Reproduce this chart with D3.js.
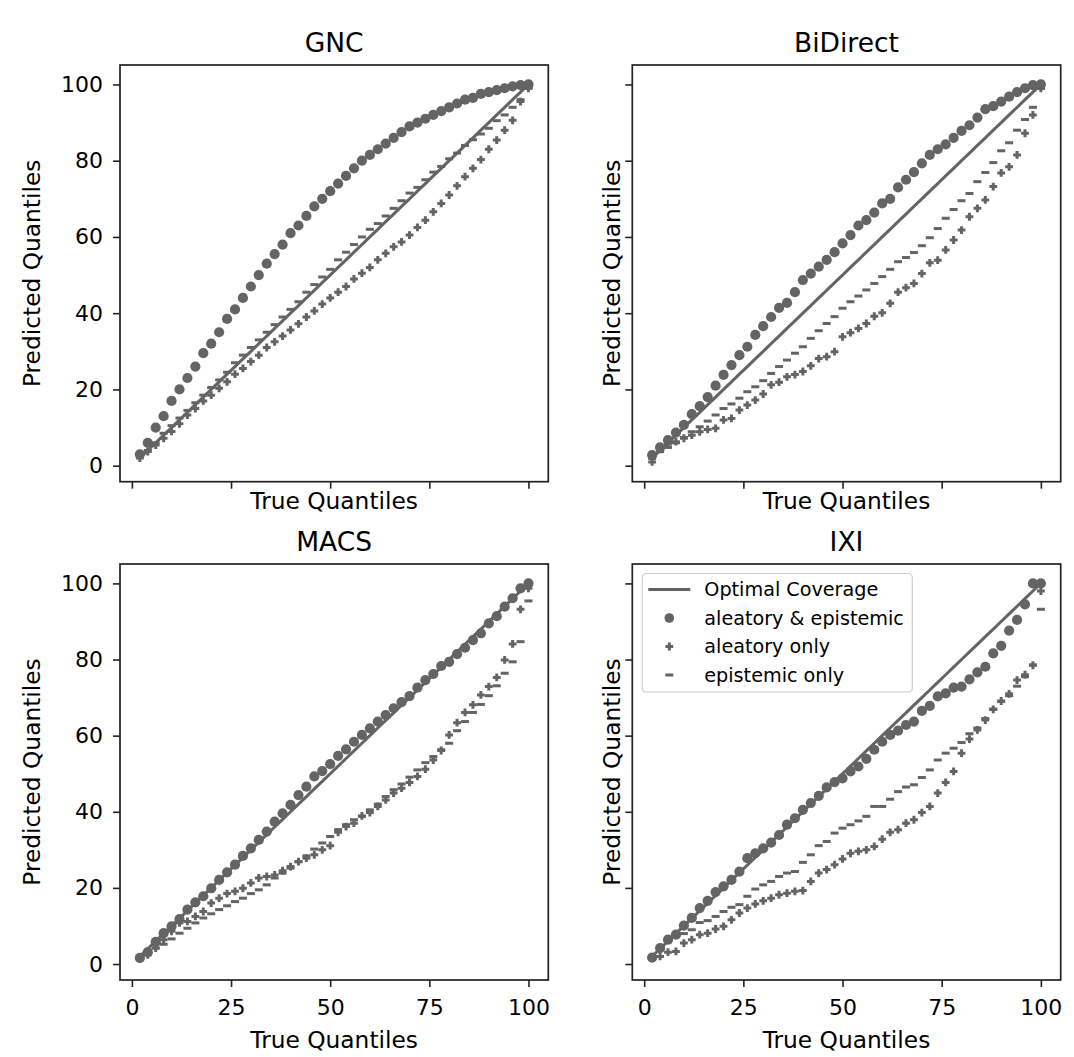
<!DOCTYPE html>
<meta charset="utf-8">
<script src="https://d3js.org/d3.v7.min.js"></script>
<style>
  body { margin: 0; background: #fff; }
  text { font-family: "DejaVu Sans", sans-serif; fill: #000; }
</style>
<div id="chart"></div>
<script>

// true quantiles (x) shared by all panels
var quantiles = [2,4,6,8,10,12,14,16,18,20,22,24,26,28,30,32,34,36,38,40,
                 42,44,46,48,50,52,54,56,58,60,62,64,66,68,70,72,74,76,78,80,
                 82,84,86,88,90,92,94,96,98,100]

var titles = ["GNC", "BiDirect", "MACS", "IXI"]
var xTicks = [0, 25, 50, 75, 100]
var yTicks = [0, 20, 40, 60, 80, 100]
var legendLabels = ["Optimal Coverage", "aleatory & epistemic", "aleatory only", "epistemic only"]

// aleatory & epistemic
var gncBoth = [3,6,10,13,17,20,23,26,29.5,32, 35,38.5,41,44,47,50,53,55.5,58,61,
               63,65.5,68,70,72,74,76,78,80,81.5, 83,84.5,86,87.5,89,90,91,92,93,94,
               95,96,96.5,97.5,98,98.5,99,99.5,99.8,100]
var bidBoth = [2.8,4.8,6.7,8.7,10.7,13.5,15.6,18,21,23.8, 26.4,29,31.2,34.3,36.6,39,41.4,42.7,45.5,48.7,
               50.4,52.2,54,56,58.3,60.5,63,64.4,66.4,68.8, 70,73,75,77,79.3,81.5,83,84.3,86,87.8,
               89.3,91.3,93.5,94.3,95.5,96.8,98,99,99.8,100]
var macsBoth = [1.6,3.1,5.8,8.1,9.9,11.8,14.3,16.2,17.8,19.9, 22.1,24.1,26.1,28.4,30.4,32.6,34.8,37.4,39.6,41.8,
                44.4,46.6,49.3,50.7,52.5,54.7,56.4,58.4,60.2,61.9, 63.7,65.4,67.2,68.8,70.4,72.6,74.6,76.2,78.3,79.4,
                81.4,83.1,85.1,86.9,89.5,91.4,93.9,96.1,98.7,100]
var ixiBoth = [1.7,4.2,6.4,7.7,10.1,12.1,14.7,16.6,18.9,20.4, 22.1,24.3,27.8,29.1,30.4,31.9,33.9,36.6,38.3,40.5,
               42.3,44.2,46.4,47.8,48.8,50.6,51.9,53.9,56.3,58.4, 60.2,61.3,62.8,63.7,66.5,67.8,70.3,71.1,72.6,72.9,
               74.8,76.6,78.1,81.6,83.6,87.6,90.4,94.5,100,100]

// aleatory only
var gncAle = [2,3.7,5.4,7.2,9,11,13.3,15,17,18.5, 20.3,22,24,25.5,27.3,29,31,32.5,34,35.6,
              37.2,39,40.6,42.4,44,45.5,47,49,50.5,52, 54,55.7,57.4,58.7,60.5,62.5,64.4,66.6,68.8,71,
              73.4,75.8,78,80.3,83,85.4,88,90.6,95.5,99]
var bidAle = [1,4.3,5.7,6.3,7.2,8,8.9,9.5,9.8,12, 12.4,14.6,15.9,17.2,18.8,21.2,21.9,23.3,23.9,24.7,
              26.2,28.1,28.6,29.9,33.8,34.9,36,37.3,39.2,40.1, 42.6,45.5,46.7,47.8,50.4,53.2,53.9,56.6,59.2,61.8,
              65.3,67.5,69.7,73.2,76.8,78.4,81.5,87.2,92,99]
var macsAle = [1.3,2.4,4.2,6.4,8.6,10.8,11.2,12.5,13.8,16, 17.3,18.5,19.1,19.9,21.3,22.6,23,23.4,24.5,25.6,
               26.9,27.8,28.7,30,31.1,34.6,36.1,37,38.9,39.8, 41.4,43.1,44.9,46.2,47.7,49.3,51.2,53.6,56.1,60.2,
               63.4,66.1,68.1,70.7,72.9,75.3,79.9,84.1,93.2,98.7]
var ixiAle = [1.7,2,3.1,3.3,5.5,6.4,7.7,8.1,9.2,9.9, 11.6,13.4,14.7,15.8,16.6,17.3,18.2,18.6,19.1,19.3,
              21.7,23.9,24.8,26.1,27.6,29.1,29.6,30,30.9,32.8, 34.6,35.3,37,37.9,39.8,41.4,44.9,47.7,50.6,55.4,
              59.1,61.5,64.1,66.9,69.1,71,74.6,76,78.5,98]

// epistemic only
var gncEpi = [2.5,4,6,8.5,10.5,12.5,14.5,16.5,18.5,20.5, 22.5,24.5,27,29,31,33,35,37,39,41,
              43,45.5,47.5,49.5,51.5,54,56,58,60,62, 63.5,65.5,67.5,69.5,71.5,73,75,77,78.5,80.5,
              82,84,85.5,87,88.5,90.5,92,94,96,99]
var bidEpi = [1.9,3.7,4.8,6,7.4,8.9,10.2,11.7,13.3,15, 16.2,17.7,19.4,20.7,22.3,24.2,26,27.7,29.5,31.2,
              33.4,35.4,37.3,39.1,41.3,43,44.5,46.1,47.8,49.6, 51.5,53.5,54.6,55.9,57.7,59.8,62.2,64.9,67.2,69.5,
              71.4,74.5,76.9,79.5,82.6,84.7,88,90.8,94,99]
var macsEpi = [1.6,2.9,4.2,5.2,6.6,8.1,9.4,10.8,12.1,13.2, 14.3,15.3,16.4,17.3,18.5,19.5,20.8,22.6,23.9,25.2,
               26.9,28.4,30.2,31.8,33.5,35.3,36.6,37.9,38.8,40.5, 42,44,45.8,47.3,49.1,51,52.9,54.5,56.3,58,
               61.3,63.7,66.1,68.2,70.5,73.1,76.4,79.4,84.7,95.4]
var ixiEpi = [2,3.8,5.9,7.3,8,9,10.9,11.4,12.5,13.8, 14.9,15.6,17.8,19.7,20.8,21.7,23,23.9,24.3,26.7,
              28.7,31.1,32.2,34.4,35.7,36.6,37.6,38.8,41.4,41.4, 43.3,45.3,46.5,47.1,49,51,53.6,55.4,56.7,58.2,
              60.5,62,64.5,67,69,70.5,73,75.5,78.6,93.2]

var both = [gncBoth, bidBoth, macsBoth, ixiBoth]
var ale = [gncAle, bidAle, macsAle, ixiAle]
var epi = [gncEpi, bidEpi, macsEpi, ixiEpi]

var width = 1074, height = 1057
var grey = "#646464"
var colX = [[120, 548.3], [632.3, 1060.7]]
var rowY = [[65, 481.7], [564, 980]]

var svg = d3.select("#chart").append("svg")
    .attr("width", width)
    .attr("height", height)

svg.append("rect").attr("width", width).attr("height", height).attr("fill", "white")

var plusPath = "M-1.5,-3.9H1.5V-1.5H3.9V1.5H1.5V3.9H-1.5V1.5H-3.9V-1.5H-1.5Z"

function drawPlus(sel) {
  sel.append("path").attr("d", plusPath).attr("fill", grey)
}
function drawDash(sel) {
  sel.append("rect").attr("x", -4).attr("y", -1.5).attr("width", 8).attr("height", 3).attr("fill", grey)
}

titles.forEach(function(title, i) {
  var col = i % 2, row = Math.floor(i / 2)
  var x0 = colX[col][0], x1 = colX[col][1]
  var y0 = rowY[row][0], y1 = rowY[row][1]

  var x = d3.scaleLinear().domain([-3, 105]).range([x0, x1])
  var y = d3.scaleLinear().domain([-4.2, 105.1]).range([y1, y0])

  var g = svg.append("g")

  // diagonal
  g.append("path")
    .datum(quantiles)
    .attr("d", d3.line().x(function(d){ return x(d) }).y(function(d){ return y(d) }))
    .attr("fill", "none")
    .attr("stroke", grey)
    .attr("stroke-width", 3)

  g.selectAll("circle.both")
    .data(quantiles)
    .enter().append("circle")
      .attr("cx", function(d){ return x(d) })
      .attr("cy", function(d, j){ return y(both[i][j]) })
      .attr("r", 5.1)
      .attr("fill", grey)

  g.selectAll("g.ale")
    .data(quantiles)
    .enter().append("g")
      .attr("transform", function(d, j){ return "translate(" + x(d) + "," + y(ale[i][j]) + ")" })
      .call(drawPlus)

  g.selectAll("g.epi")
    .data(quantiles)
    .enter().append("g")
      .attr("transform", function(d, j){ return "translate(" + x(d) + "," + y(epi[i][j]) + ")" })
      .call(drawDash)

  // axes
  var xa = d3.axisBottom(x).tickValues(xTicks).tickSize(7).tickPadding(12)
  if (row == 0) xa.tickFormat("")
  var ya = d3.axisLeft(y).tickValues(yTicks).tickSize(7).tickPadding(10)
  if (col == 1) ya.tickFormat("")

  var gx = g.append("g").attr("transform", "translate(0," + y1 + ")").call(xa)
  var gy = g.append("g").attr("transform", "translate(" + x0 + ",0)").call(ya)
  ;[gx, gy].forEach(function(a) {
    a.select(".domain").remove()
    a.selectAll("line").attr("stroke", "#222").attr("stroke-width", 1.6)
    a.selectAll("text").attr("font-family", "DejaVu Sans").attr("font-size", 22).attr("fill", "#000")
  })

  g.append("rect")
    .attr("x", x0).attr("y", y0)
    .attr("width", x1 - x0).attr("height", y1 - y0)
    .attr("fill", "none")
    .attr("stroke", "#222")
    .attr("stroke-width", 1.7)

  g.append("text")
    .attr("x", (x0 + x1) / 2).attr("y", y0 - 13)
    .attr("text-anchor", "middle")
    .attr("font-size", 26.5)
    .text(title)

  g.append("text")
    .attr("x", (x0 + x1) / 2).attr("y", row == 0 ? y1 + 27 : y1 + 68)
    .attr("text-anchor", "middle")
    .attr("font-size", 23.3)
    .text("True Quantiles")

  g.append("text")
    .attr("transform", "translate(" + (x0 - (col == 0 ? 80.5 : 12.8)) + "," + ((y0 + y1) / 2) + ") rotate(-90)")
    .attr("text-anchor", "middle")
    .attr("font-size", 23.3)
    .text("Predicted Quantiles")

  // legend in last panel
  if (i == 3) {
    var lx = x0 + 10, ly = y0 + 9.5
    var leg = g.append("g").attr("transform", "translate(" + lx + "," + ly + ")")
    leg.append("rect")
      .attr("width", 270).attr("height", 118.5)
      .attr("rx", 4)
      .attr("fill", "white").attr("fill-opacity", 0.8)
      .attr("stroke", "#cccccc").attr("stroke-width", 1.2)

    legendLabels.forEach(function(lab, k) {
      var cy = 16 + k * 28.5
      var mk = leg.append("g").attr("transform", "translate(27," + cy + ")")
      if (k == 0) {
        mk.append("line").attr("x1", -21).attr("x2", 21)
          .attr("stroke", grey).attr("stroke-width", 3)
      } else if (k == 1) {
        mk.append("circle").attr("r", 4.8).attr("fill", grey)
      } else if (k == 2) {
        mk.call(drawPlus)
      } else {
        mk.call(drawDash)
      }
      leg.append("text")
        .attr("x", 62).attr("y", cy)
        .attr("dy", "0.35em")
        .attr("font-size", 19.2)
        .text(lab)
    })
  }
})

</script>
